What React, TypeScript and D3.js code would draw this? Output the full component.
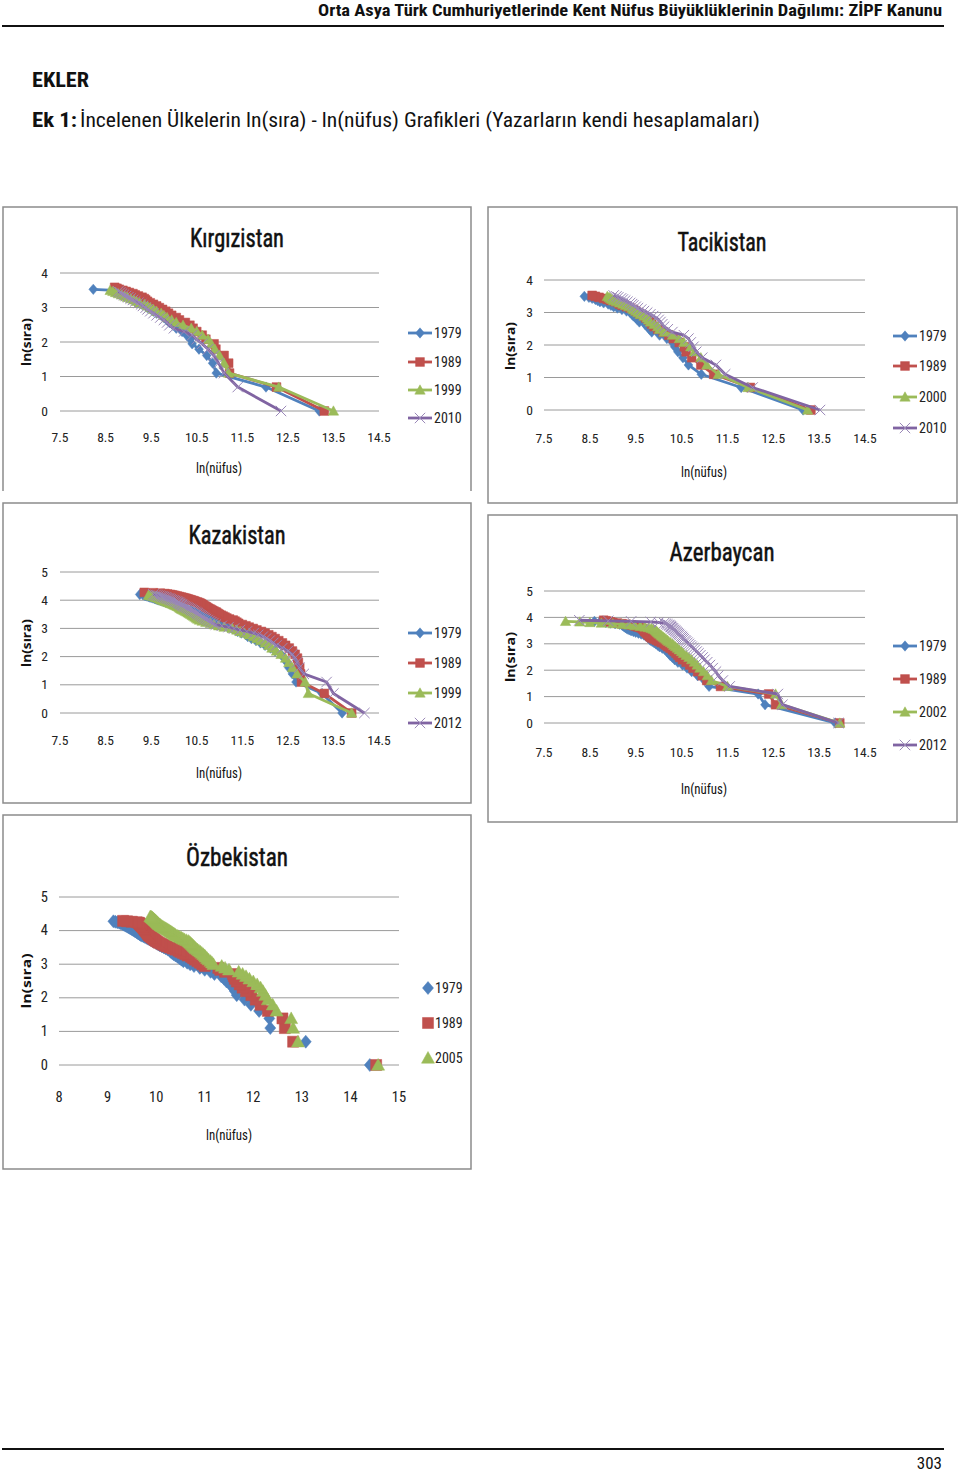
import React from "react";
import * as d3 from "d3";

const NARROW = '"Liberation Sans Narrow","Roboto Condensed","DejaVu Sans Condensed","Open Sans",sans-serif';
const SANS = '"Open Sans","Liberation Sans",sans-serif';
const SERIES_COLORS = ["#4F81BD", "#C0504D", "#9BBB59", "#8064A2"];
const SHAPES = ["diamond", "square", "triangle", "x"];

// ---------- DATA: ln(population) by rank (rank 1 first); ln(rank) is the y value ----------
// Kırgızistan
const kgYears = ["1979", "1989", "1999", "2010"];
const kg1979 = [13.19, 12.02, 10.93, 10.85, 10.72, 10.55, 10.4, 10.36, 10.28, 10.18, 10.05, 9.98, 9.9, 9.84, 9.78, 9.72, 9.62, 9.55, 9.5, 9.42, 9.38, 9.3, 9.22, 9.15, 9.1, 9.04, 8.98, 8.92, 8.88, 8.83, 8.78, 8.74, 8.7, 8.23];
const kg1989 = [13.3, 12.25, 11.22, 11.2, 11.1, 10.92, 10.88, 10.7, 10.62, 10.5, 10.42, 10.35, 10.25, 10.12, 10.05, 9.95, 9.88, 9.82, 9.75, 9.68, 9.62, 9.55, 9.48, 9.42, 9.38, 9.35, 9.3, 9.22, 9.15, 9.1, 9.02, 8.95, 8.88, 8.8, 8.75, 8.7];
const kg1999 = [13.5, 12.3, 11.2, 11.1, 11.0, 10.9, 10.82, 10.75, 10.62, 10.5, 10.38, 10.2, 10.05, 9.95, 9.85, 9.78, 9.72, 9.62, 9.55, 9.48, 9.42, 9.35, 9.25, 9.18, 9.12, 9.05, 8.98, 8.92, 8.85, 8.78, 8.72, 8.66, 8.6];
const kg2010 = [12.35, 11.4, 11.1, 10.98, 10.88, 10.75, 10.62, 10.5, 10.4, 10.22, 10.0, 9.9, 9.85, 9.78, 9.7, 9.62, 9.55, 9.48, 9.42, 9.38, 9.32, 9.28, 9.22, 9.15, 9.1, 9.05, 9.0, 8.95, 8.9, 8.86, 8.82, 8.78];

// Tacikistan
const tjYears = ["1979", "1989", "2000", "2010"];
const tj1979 = [13.15, 11.8, 10.93, 10.65, 10.53, 10.42, 10.35, 10.3, 10.18, 10.02, 9.85, 9.8, 9.75, 9.7, 9.58, 9.54, 9.5, 9.45, 9.42, 9.38, 9.3, 9.2, 9.1, 9.02, 8.96, 8.9, 8.8, 8.72, 8.67, 8.62, 8.55, 8.48, 8.38];
const tj1989 = [13.32, 12.0, 11.2, 10.92, 10.72, 10.6, 10.56, 10.45, 10.32, 10.22, 10.1, 9.98, 9.9, 9.85, 9.82, 9.78, 9.72, 9.68, 9.6, 9.55, 9.5, 9.45, 9.38, 9.3, 9.2, 9.15, 9.12, 9.05, 8.95, 8.88, 8.8, 8.7, 8.62, 8.55];
const tj2000 = [13.25, 11.95, 11.3, 11.05, 10.92, 10.78, 10.7, 10.55, 10.45, 10.3, 10.12, 10.02, 9.98, 9.9, 9.82, 9.78, 9.75, 9.68, 9.6, 9.55, 9.5, 9.45, 9.42, 9.35, 9.28, 9.22, 9.15, 9.08, 9.02, 8.98, 8.95, 8.92, 8.88];
const tj2010 = [13.52, 12.05, 11.45, 11.25, 10.95, 10.82, 10.76, 10.7, 10.65, 10.55, 10.3, 10.2, 10.12, 10.08, 10.04, 10.0, 9.95, 9.88, 9.82, 9.75, 9.68, 9.62, 9.55, 9.5, 9.45, 9.42, 9.38, 9.32, 9.27, 9.22, 9.18, 9.12, 9.08, 9.02];

// Kazakistan
const kzYears = ["1979", "1989", "1999", "2012"];
const kz1979 = [13.69, 13.25, 12.68, 12.6, 12.52, 12.48, 12.42, 12.35, 12.22, 12.12,
  12.0, 11.9, 11.8, 11.7, 11.62, 11.58, 11.48, 11.4, 11.35, 11.28,
  11.18, 11.1, 11.02, 10.98, 10.92, 10.88, 10.84, 10.78, 10.72, 10.68,
  10.62, 10.58, 10.54, 10.5, 10.48, 10.44, 10.4, 10.36, 10.3, 10.26,
  10.22, 10.18, 10.14, 10.1, 10.06, 10.02, 9.98, 9.95, 9.9, 9.86,
  9.82, 9.78, 9.74, 9.7, 9.66, 9.63, 9.6, 9.57, 9.54, 9.5,
  9.47, 9.44, 9.41, 9.38, 9.35, 9.32, 9.25];
const kz1989 = [13.9, 13.3, 12.8, 12.78, 12.76, 12.73, 12.71, 12.66, 12.6, 12.53,
  12.45, 12.38, 12.3, 12.22, 12.15, 12.08, 12.0, 11.92, 11.82, 11.74,
  11.65, 11.58, 11.5, 11.42, 11.38, 11.34, 11.3, 11.22, 11.16, 11.12,
  11.08, 11.04, 11.0, 10.97, 10.94, 10.92, 10.88, 10.85, 10.82, 10.79,
  10.76, 10.73, 10.71, 10.69, 10.66, 10.64, 10.62, 10.6, 10.58, 10.55,
  10.52, 10.48, 10.45, 10.42, 10.38, 10.35, 10.31, 10.28, 10.24, 10.2,
  10.16, 10.12, 10.08, 10.04, 10.0, 9.96, 9.92, 9.86, 9.8, 9.7,
  9.55, 9.35];
const kz1999 = [13.9, 12.95, 12.88, 12.7, 12.6, 12.52, 12.45, 12.35, 12.25, 12.15,
  12.08, 12.0, 11.9, 11.82, 11.74, 11.65, 11.55, 11.45, 11.38, 11.28,
  11.1, 10.98, 10.88, 10.8, 10.7, 10.62, 10.56, 10.52, 10.49, 10.46,
  10.43, 10.4, 10.37, 10.34, 10.31, 10.28, 10.25, 10.22, 10.19, 10.16,
  10.14, 10.12, 10.1, 10.07, 10.04, 10.01, 9.98, 9.95, 9.92, 9.89,
  9.86, 9.83, 9.8, 9.77, 9.74, 9.72, 9.7, 9.68, 9.65, 9.62,
  9.59, 9.56, 9.52, 9.48, 9.44];
const kz2012 = [14.18, 13.5, 13.35, 12.85, 12.75, 12.7, 12.65, 12.6, 12.5, 12.38,
  12.25, 12.18, 12.1, 12.02, 11.95, 11.85, 11.75, 11.6, 11.45, 11.32,
  11.2, 11.05, 10.92, 10.86, 10.82, 10.78, 10.74, 10.7, 10.67, 10.64,
  10.61, 10.58, 10.55, 10.52, 10.5, 10.47, 10.44, 10.41, 10.38, 10.35,
  10.32, 10.29, 10.26, 10.23, 10.2, 10.18, 10.16, 10.14, 10.12, 10.1,
  10.08, 10.05, 10.02, 9.99, 9.96, 9.93, 9.9, 9.87, 9.84, 9.81,
  9.78, 9.75, 9.72, 9.68, 9.64, 9.6, 9.55];

// Azerbaycan
const azYears = ["1979", "1989", "2002", "2012"];
const az1979 = [13.85, 12.32, 12.17, 11.1, 11.0, 10.85, 10.72, 10.62, 10.52, 10.42,
  10.35, 10.3, 10.25, 10.22, 10.18, 10.14, 10.08, 10.02, 9.98, 9.94,
  9.9, 9.86, 9.82, 9.8, 9.78, 9.76, 9.72, 9.68, 9.62, 9.56,
  9.5, 9.45, 9.4, 9.36, 9.33, 9.3, 9.28, 9.26, 9.24, 9.22,
  9.2, 9.15, 9.05, 8.95, 8.85, 8.72, 8.6];
const az1989 = [13.95, 12.55, 12.4, 11.35, 11.05, 10.95, 10.85, 10.75, 10.68, 10.6,
  10.52, 10.46, 10.42, 10.38, 10.34, 10.3, 10.25, 10.2, 10.16, 10.12,
  10.06, 10.0, 9.95, 9.9, 9.85, 9.82, 9.8, 9.78, 9.76, 9.74,
  9.72, 9.7, 9.69, 9.68, 9.66, 9.64, 9.6, 9.55, 9.5, 9.45,
  9.4, 9.3, 9.2, 9.1, 9.0, 8.95, 8.9, 8.85, 8.8];
const az2002 = [13.95, 12.68, 12.55, 11.5, 11.15, 11.06, 10.98, 10.9, 10.84, 10.78,
  10.72, 10.66, 10.6, 10.54, 10.5, 10.45, 10.41, 10.37, 10.33, 10.3,
  10.26, 10.22, 10.19, 10.16, 10.13, 10.1, 10.07, 10.05, 10.02, 10.0,
  9.98, 9.96, 9.94, 9.92, 9.88, 9.84, 9.78, 9.7, 9.6, 9.48,
  9.35, 9.2, 9.0, 8.75, 8.5, 8.28, 7.97];
const az2012 = [13.92, 12.7, 12.6, 11.55, 11.4, 11.3, 11.25, 11.18, 11.12, 11.06,
  11.0, 10.96, 10.91, 10.87, 10.83, 10.79, 10.76, 10.72, 10.69, 10.66,
  10.63, 10.6, 10.58, 10.55, 10.53, 10.51, 10.49, 10.46, 10.44, 10.42,
  10.4, 10.38, 10.36, 10.34, 10.32, 10.3, 10.29, 10.27, 10.26, 10.24,
  10.22, 10.19, 10.16, 10.12, 10.0, 9.83, 9.4, 8.9, 8.27];

// Özbekistan
const uzYears = ["1979", "1989", "2005"];
const uz1979 = [14.4, 13.08, 12.35, 12.33, 12.12, 11.95, 11.82, 11.66, 11.62, 11.58,
  11.52, 11.45, 11.4, 11.34, 11.2, 11.12, 11.0, 10.9, 10.78, 10.7,
  10.64, 10.56, 10.52, 10.48, 10.44, 10.4, 10.36, 10.33, 10.3, 10.28,
  10.24, 10.2, 10.16, 10.12, 10.08, 10.05, 10.02, 10.0, 9.96, 9.93,
  9.9, 9.86, 9.83, 9.8, 9.77, 9.74, 9.71, 9.68, 9.66, 9.64,
  9.62, 9.6, 9.58, 9.56, 9.54, 9.52, 9.5, 9.48, 9.46, 9.44,
  9.42, 9.4, 9.38, 9.36, 9.34, 9.32, 9.3, 9.27, 9.24, 9.2,
  9.16, 9.12];
const uz1989 = [14.53, 12.82, 12.65, 12.6, 12.3, 12.15, 12.05, 11.96, 11.85, 11.78,
  11.72, 11.66, 11.62, 11.6, 11.58, 11.42, 11.32, 11.28, 11.0, 10.95,
  10.9, 10.85, 10.8, 10.76, 10.72, 10.65, 10.6, 10.55, 10.5, 10.46,
  10.4, 10.34, 10.28, 10.22, 10.18, 10.14, 10.1, 10.06, 10.03, 10.0,
  9.98, 9.96, 9.94, 9.92, 9.9, 9.88, 9.86, 9.85, 9.84, 9.83,
  9.82, 9.81, 9.8, 9.79, 9.78, 9.77, 9.76, 9.75, 9.74, 9.73,
  9.72, 9.71, 9.7, 9.69, 9.68, 9.67, 9.66, 9.65, 9.64, 9.6,
  9.5, 9.4, 9.32];
const uz2005 = [14.57, 12.92, 12.82, 12.78, 12.48, 12.4, 12.3, 12.25, 12.2, 12.15,
  12.08, 12.0, 11.92, 11.85, 11.78, 11.7, 11.5, 11.42, 11.35, 11.18,
  11.15, 11.12, 11.08, 11.05, 11.02, 11.0, 10.97, 10.94, 10.91, 10.88,
  10.85, 10.82, 10.8, 10.78, 10.76, 10.74, 10.72, 10.7, 10.68, 10.66,
  10.62, 10.58, 10.55, 10.52, 10.49, 10.46, 10.43, 10.4, 10.38, 10.36,
  10.34, 10.32, 10.3, 10.28, 10.26, 10.24, 10.22, 10.2, 10.18, 10.16,
  10.14, 10.12, 10.1, 10.09, 10.08, 10.06, 10.05, 10.04, 10.03, 10.02,
  10.01, 10.0, 9.99, 9.98, 9.97, 9.96, 9.95, 9.94, 9.93, 9.92,
  9.91, 9.9, 9.88];

// Tick labels
const xTicksHalf = [7.5, 8.5, 9.5, 10.5, 11.5, 12.5, 13.5, 14.5];
const xTicksInt = [8, 9, 10, 11, 12, 13, 14, 15];
const yTicks4 = [0, 1, 2, 3, 4];
const yTicks5 = [0, 1, 2, 3, 4, 5];

// ---------- LAYOUT ----------
type Cfg = {
  title: string;
  box: { x: number; y: number; w: number; h: number; noBottom?: boolean };
  xDomain: [number, number]; xRange: [number, number];
  yDomain: [number, number]; yRange: [number, number];
  xTicks: number[]; yTicks: number[];
  yTickX: number; xTickY: number;
  titlePos: [number, number, number];
  yLabel: [number, number, number];
  xLabel: [number, number, number];
  legend: { x0: number; x1: number; label: number; rows: number[]; markersOnly?: boolean };
  years: string[];
  series: number[][];
  lines: boolean;
  msize: number;
  fs: number;
};

function markerPath(shape: string, s: number) {
  switch (shape) {
    case "diamond":
      return `M0,${-s}L${s * 0.85},0L0,${s}L${-s * 0.85},0Z`;
    case "square":
      return `M${-s * 0.85},${-s * 0.85}H${s * 0.85}V${s * 0.85}H${-s * 0.85}Z`;
    case "triangle":
      return `M0,${-s}L${s},${s * 0.8}L${-s},${s * 0.8}Z`;
    default:
      return `M${-s},${-s}L${s},${s}M${-s},${s}L${s},${-s}`;
  }
}

function Marker({ shape, color, s, x, y }: { shape: string; color: string; s: number; x: number; y: number }) {
  const isX = shape === "x";
  return (
    <path
      d={markerPath(shape, s)}
      transform={`translate(${x},${y})`}
      fill={isX ? "none" : color}
      stroke={isX ? "#9a88b8" : color}
      strokeWidth={isX ? 1 : 0.5}
    />
  );
}

function Panel({ c }: { c: Cfg }) {
  const x = d3.scaleLinear().domain(c.xDomain).range(c.xRange);
  const y = d3.scaleLinear().domain(c.yDomain).range(c.yRange);
  const line = d3
    .line<[number, number]>()
    .x((d) => x(d[0]))
    .y((d) => y(d[1]));
  const pts = c.series.map((s) => s.map((v, i) => [v, Math.log(i + 1)] as [number, number]));
  const { box } = c;
  const boxPath = box.noBottom
    ? `M${box.x},${box.y + box.h}V${box.y}H${box.x + box.w}V${box.y + box.h}`
    : `M${box.x},${box.y}H${box.x + box.w}V${box.y + box.h}H${box.x}Z`;
  return (
    <g>
      <path d={boxPath} fill="#fff" stroke="#8c8c8c" strokeWidth={1.5} />
      <text x={c.titlePos[0]} y={c.titlePos[1]} textAnchor="middle" fontFamily={NARROW} fontSize={26}
        fill="#111" stroke="#111" strokeWidth={0.5} textLength={c.titlePos[2]} lengthAdjust="spacingAndGlyphs">{c.title}</text>
      {c.yTicks.map((t) => (
        <g key={"y" + t}>
          <line x1={c.xRange[0]} x2={c.xRange[1]} y1={y(t)} y2={y(t)} stroke="#9a9a9a" strokeWidth={1} />
          <text x={c.yTickX} y={y(t) + 4.5} textAnchor="end" fontFamily={NARROW} fontSize={c.fs} fill="#222">{t}</text>
        </g>
      ))}
      {c.xTicks.map((t) => (
        <text key={"x" + t} x={x(t)} y={c.xTickY} textAnchor="middle" fontFamily={NARROW} fontSize={c.fs} fill="#222">{t}</text>
      ))}
      <text transform={`translate(${c.yLabel[0]},${c.yLabel[1]}) rotate(-90)`} textAnchor="middle" dy="0.35em"
        fontFamily={SANS} fontWeight="bold" fontSize={12} fill="#111" textLength={c.yLabel[2]} lengthAdjust="spacingAndGlyphs">ln(sıra)</text>
      <text x={c.xLabel[0]} y={c.xLabel[1]} textAnchor="middle" fontFamily={NARROW} fontSize={15} fill="#111"
        textLength={c.xLabel[2]} lengthAdjust="spacingAndGlyphs">ln(nüfus)</text>
      {pts.map((p, si) => (
        <g key={"s" + si}>
          {c.lines && (
            <path d={line(p) || ""} fill="none" stroke={SERIES_COLORS[si]} strokeWidth={2.8} strokeLinejoin="round" />
          )}
          {p.map((d, i) => (
            <Marker key={i} shape={SHAPES[si]} color={SERIES_COLORS[si]} s={c.msize} x={x(d[0])} y={y(d[1])} />
          ))}
        </g>
      ))}
      {c.years.map((yr, i) => {
        const ry = c.legend.rows[i];
        const mx = c.legend.markersOnly ? c.legend.x0 : (c.legend.x0 + c.legend.x1) / 2;
        return (
          <g key={"l" + yr}>
            {!c.legend.markersOnly && (
              <line x1={c.legend.x0} x2={c.legend.x1} y1={ry} y2={ry} stroke={SERIES_COLORS[i]} strokeWidth={2.8} />
            )}
            <Marker shape={SHAPES[i]} color={SERIES_COLORS[i]} s={c.msize} x={mx} y={ry} />
            <text x={c.legend.label} y={ry + 5} fontFamily={NARROW} fontSize={14} fill="#222">{yr}</text>
          </g>
        );
      })}
    </g>
  );
}

const panels: Cfg[] = [
  {
    title: "Kırgızistan",
    box: { x: 3, y: 207, w: 468, h: 284, noBottom: true },
    xDomain: [7.5, 14.5], xRange: [60, 379], yDomain: [0, 4], yRange: [411, 273],
    xTicks: xTicksHalf, yTicks: yTicks4, yTickX: 48, xTickY: 442,
    titlePos: [237, 247, 94], yLabel: [27, 342, 48], xLabel: [219, 473, 46],
    legend: { x0: 408, x1: 432, label: 434, rows: [333, 362, 390, 418] },
    years: kgYears, series: [kg1979, kg1989, kg1999, kg2010], lines: true, msize: 5.2, fs: 13.5,
  },
  {
    title: "Tacikistan",
    box: { x: 488, y: 207, w: 469, h: 296 },
    xDomain: [7.5, 14.5], xRange: [544, 865], yDomain: [0, 4], yRange: [410, 280],
    xTicks: xTicksHalf, yTicks: yTicks4, yTickX: 533, xTickY: 443,
    titlePos: [722, 251, 89], yLabel: [511, 346, 48], xLabel: [704, 477, 46],
    legend: { x0: 893, x1: 917, label: 919, rows: [336, 366, 397, 428] },
    years: tjYears, series: [tj1979, tj1989, tj2000, tj2010], lines: true, msize: 5.2, fs: 13.5,
  },
  {
    title: "Kazakistan",
    box: { x: 3, y: 503, w: 468, h: 300 },
    xDomain: [7.5, 14.5], xRange: [60, 379], yDomain: [0, 5], yRange: [713, 572],
    xTicks: xTicksHalf, yTicks: yTicks5, yTickX: 48, xTickY: 745,
    titlePos: [237, 544, 97], yLabel: [27, 643, 48], xLabel: [219, 778, 46],
    legend: { x0: 408, x1: 432, label: 434, rows: [633, 663, 693, 723] },
    years: kzYears, series: [kz1979, kz1989, kz1999, kz2012], lines: true, msize: 5.2, fs: 13.5,
  },
  {
    title: "Azerbaycan",
    box: { x: 488, y: 515, w: 469, h: 307 },
    xDomain: [7.5, 14.5], xRange: [544, 865], yDomain: [0, 5], yRange: [723, 591],
    xTicks: xTicksHalf, yTicks: yTicks5, yTickX: 533, xTickY: 757,
    titlePos: [722, 561, 105], yLabel: [511, 657, 50], xLabel: [704, 794, 46],
    legend: { x0: 893, x1: 917, label: 919, rows: [646, 679, 712, 745] },
    years: azYears, series: [az1979, az1989, az2002, az2012], lines: true, msize: 5.2, fs: 13.5,
  },
  {
    title: "Özbekistan",
    box: { x: 3, y: 815, w: 468, h: 354 },
    xDomain: [8, 15], xRange: [59, 399], yDomain: [0, 5], yRange: [1065, 897],
    xTicks: xTicksInt, yTicks: yTicks5, yTickX: 48, xTickY: 1102,
    titlePos: [237, 866, 102], yLabel: [27, 981, 55], xLabel: [229, 1140, 46],
    legend: { x0: 428, x1: 428, label: 435, rows: [988, 1023, 1058], markersOnly: true },
    years: uzYears, series: [uz1979, uz1989, uz2005], lines: false, msize: 6.5, fs: 14.5,
  },
];

export default function App() {
  return (
    <svg width={960} height={1474} viewBox="0 0 960 1474" style={{ position: "absolute", left: 0, top: 0, background: "#fff" }}>
      <rect x={0} y={0} width={960} height={1474} fill="#fff" />
      <text x={942} y={16} textAnchor="end" fontFamily={NARROW} fontWeight="bold" fontSize={16} fill="#111"
        textLength={624} lengthAdjust="spacingAndGlyphs">
        Orta Asya Türk Cumhuriyetlerinde Kent Nüfus Büyüklüklerinin Dağılımı: ZİPF Kanunu
      </text>
      <line x1={2} x2={944} y1={26} y2={26} stroke="#111" strokeWidth={2} />
      <text x={32} y={87} fontFamily={NARROW} fontWeight="bold" fontSize={20} fill="#111" textLength={57} lengthAdjust="spacingAndGlyphs">EKLER</text>
      <text x={32} y={127} fontFamily={NARROW} fontWeight="bold" fontSize={20} fill="#111" textLength={45} lengthAdjust="spacingAndGlyphs">Ek 1:</text>
      <text x={80} y={127} fontFamily={NARROW} fontSize={20} fill="#111" textLength={680} lengthAdjust="spacingAndGlyphs">
        İncelenen Ülkelerin ln(sıra) - ln(nüfus) Grafikleri (Yazarların kendi hesaplamaları)
      </text>
      {panels.map((c) => (
        <Panel key={c.title} c={c} />
      ))}
      <line x1={2} x2={944} y1={1449} y2={1449} stroke="#111" strokeWidth={2} />
      <text x={942} y={1469} textAnchor="end" fontFamily={NARROW} fontSize={17} fill="#111">303</text>
    </svg>
  );
}
